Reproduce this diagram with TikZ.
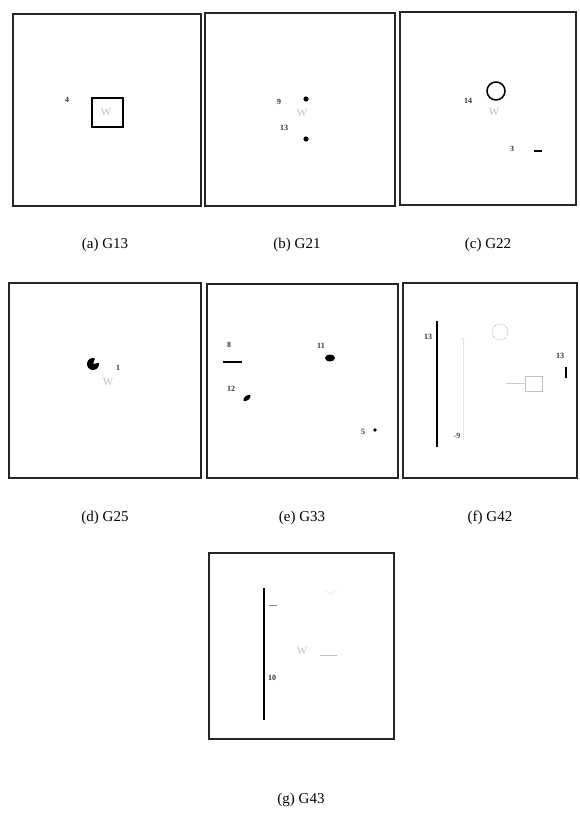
\documentclass[tikz,border=0pt]{standalone}
\usepackage{fontspec}
\setmainfont{Liberation Serif}
\usetikzlibrary{positioning}

\begin{document}
\begin{tikzpicture}[x=1pt, y=-1pt,
  frame/.style={draw=black!85, line width=1.8pt},
  caption/.style={font=\fontsize{15}{17}\selectfont},
  lbl/.style={font=\fontsize{8}{9}\selectfont\bfseries, text=black!80, inner sep=0pt},
  faint/.style={font=\fontsize{11}{11}\selectfont, text=black!25, inner sep=0pt},
  every node/.style={font=\small}]
  \useasboundingbox (0,0) rectangle (579,821);

  % Frames
  \draw[frame] (13,14) rectangle (201,206);
  \draw[frame] (205,13) rectangle (395,206);
  \draw[frame] (400,12) rectangle (576,205);
  \draw[frame] (9,283) rectangle (201,478);
  \draw[frame] (207,284) rectangle (398,478);
  \draw[frame] (403,283) rectangle (577,478);
  \draw[frame] (209,553) rectangle (394,739);

  % Captions
  \node[caption] (capa) at (105,245) {(a) G13};
  \node[caption] (capb) at (297,245) {(b) G21};
  \node[caption] (capc) at (488,245) {(c) G22};
  \node[caption] (capd) at (105,518) {(d) G25};
  \node[caption] (cape) at (302,518) {(e) G33};
  \node[caption] (capf) at (490,518) {(f) G42};
  \node[caption] (capg) at (301,800) {(g) G43};

  % (a) G13
  \node[lbl] (a4) at (67,100) {4};
  \draw[line width=2.4pt] (92,98) rectangle (123,127);
  \node[faint] (aw) at (106,112) {W};

  % (b) G21
  \node[lbl] (b9) at (279,102) {9};
  \fill (306,99) circle (2.6);
  \node[faint] (bw) at (302,113) {W};
  \node[lbl] (b13) at (284,128) {13};
  \fill (306,139) circle (2.6);

  % (c) G22
  \node[lbl] (c14) at (468,101) {14};
  \draw[line width=1.5pt] (496,91) circle (9);
  \node[faint] (cw) at (494,112) {W};
  \node[lbl] (c3) at (512,149) {3};
  \draw[line width=1.2pt] (534,151) -- (542,151);

  % (d) G25
  \fill (93,364) -- ++(-10:6) arc[start angle=-10, end angle=290, radius=6] -- cycle;
  \node[lbl] (d1) at (118,368) {1};
  \node[faint] (dw) at (108,382) {W};

  % (e) G33
  \node[lbl] (e8) at (229,345) {8};
  \draw[line width=1.2pt] (223,362) -- (242,362);
  \node[lbl] (e11) at (321,346) {11};
  \fill (330,358) ellipse (5 and 3.5);
  \node[lbl] (e12) at (231,389) {12};
  \fill[rotate around={40:(247,398)}] (247,398) ellipse (4.5 and 2.2);
  \node[lbl] (e5) at (363,432) {5};
  \fill (375,430) circle (1.8);

  % (f) G42
  \draw[line width=1.3pt] (437,321) -- (437,447);
  \node[lbl] (f13a) at (428,337) {13};
  \draw[black!25, densely dotted, line width=0.8pt] (500,332) circle (8);
  \draw[black!10, line width=0.6pt] (461,338) -- (465,338) (463,338) -- (463,440);
  \node[lbl] (f13b) at (560,356) {13};
  \draw[line width=1.8pt] (566,367) -- (566,378);
  \draw[black!25, line width=0.8pt] (525,376) rectangle (542,391);
  \draw[black!20, line width=0.6pt] (506,383) -- (525,383);
  \node[lbl, text=black!70] (f9) at (457,436) {-9};

  % (g) G43
  \draw[line width=1.3pt] (264,588) -- (264,720);
  \draw[black!50, line width=0.6pt] (269,605) -- (277,605);
  \node[lbl] (g10) at (272,678) {10};
  \node[faint] (gw) at (302,651) {W};
  \draw[black!25, line width=0.6pt] (320,655) -- (337,655);
  \draw[black!25, densely dotted, line width=0.6pt] (325,590) -- (330,594) -- (336,591);
\end{tikzpicture}
\end{document}
